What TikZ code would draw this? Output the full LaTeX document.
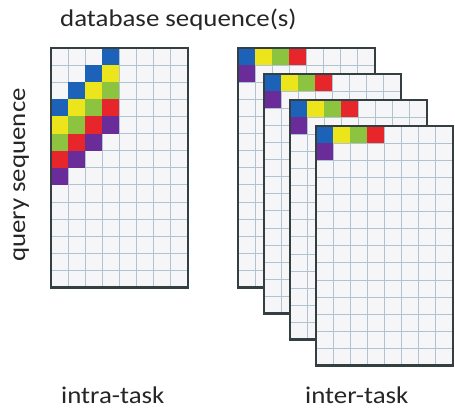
\documentclass[tikz,border=0pt]{standalone}
\usepackage{fontspec}
\setmainfont{Carlito}[FakeStretch=1.12]
\definecolor{cblue}{HTML}{1B62B8}
\definecolor{cyellow}{HTML}{ECE51C}
\definecolor{cgreen}{HTML}{8CC440}
\definecolor{cred}{HTML}{E6262A}
\definecolor{cpurple}{HTML}{6A2C98}
\definecolor{cellbg}{HTML}{F6F6F8}
\definecolor{gridcol}{HTML}{AFC4D0}
\definecolor{framecol}{HTML}{343F42}
\tikzset{
  gridline/.style={draw=gridcol, line width=0.7pt},
  framebox/.style={draw=framecol, line width=2.6pt},
  lbl/.style={font=\fontsize{24}{28}\selectfont, text=black!85, inner sep=0pt},
}
\newcommand\cs{17.1}
\newcommand\gridbase[2]{%
  \fill[cellbg] (#1,#2) rectangle ++(136.8,239.4);
  \foreach \i in {1,...,7} \draw[gridline] ({#1+\i*\cs},#2) -- ++(0,239.4);
  \foreach \j in {1,...,13} \draw[gridline] (#1,{#2+\j*\cs}) -- ++(136.8,0);
}
\newcommand\gridframe[2]{\draw[framebox] (#1,#2) rectangle ++(136.8,239.4);}
\newcommand\cellat[4]{\fill[#4] ({#1+#3*\cs},{#2+#2*0}) ++(0,0) rectangle ++(0,0);}
\newcommand\colcell[5]{\fill[#5] ({#1+#3*\cs},{#2+#4*\cs}) rectangle ++(\cs,\cs);}
\begin{document}
\begin{tikzpicture}[x=1pt,y=-1pt]
\useasboundingbox[fill=white] (0,0) rectangle (455,410);
% left grid (intra-task)
\gridbase{51}{48}
\foreach \c/\r/\k in {3/0/cblue, 2/1/cblue, 3/1/cyellow, 1/2/cblue, 2/2/cyellow, 3/2/cgreen,
  0/3/cblue, 1/3/cyellow, 2/3/cgreen, 3/3/cred,
  0/4/cyellow, 1/4/cgreen, 2/4/cred, 3/4/cpurple,
  0/5/cgreen, 1/5/cred, 2/5/cpurple,
  0/6/cred, 1/6/cpurple, 0/7/cpurple}{\colcell{51}{48}{\c}{\r}{\k}}
\gridframe{51}{48}
% right stack (inter-task)
\foreach \gx/\gy in {238/48, 264/74, 290/100, 316/126}{
  \gridbase{\gx}{\gy}
  \colcell{\gx}{\gy}{0}{0}{cblue}
  \colcell{\gx}{\gy}{1}{0}{cyellow}
  \colcell{\gx}{\gy}{2}{0}{cgreen}
  \colcell{\gx}{\gy}{3}{0}{cred}
  \colcell{\gx}{\gy}{0}{1}{cpurple}
  \gridframe{\gx}{\gy}
}
% labels
\node[lbl, anchor=base west] (title) at (60,26) {database sequence(s)};
\node[lbl, anchor=base, rotate=90] (query) at (25,175) {query sequence};
\node[lbl, anchor=base west] (intra) at (61,403) {intra-task};
\node[lbl, anchor=base west] (inter) at (305,403) {inter-task};
\end{tikzpicture}
\end{document}
